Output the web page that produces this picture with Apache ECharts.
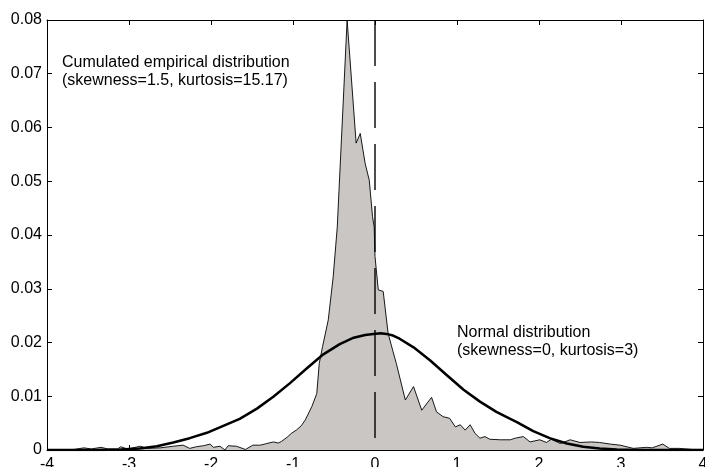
<!DOCTYPE html>
<html>
<head>
<meta charset="utf-8">
<script src="https://cdn.jsdelivr.net/npm/echarts@6/dist/echarts.min.js"></script>
<style>html,body{margin:0;padding:0;background:#fff}#c{width:705px;height:467px}</style>
</head>
<body>
<div id="c"></div>
<script>
// Empirical distribution [x, density]
var empiricalX = [-4.00,-3.67,-3.55,-3.46,-3.34,-3.26,-3.14,-3.10,-3.02,-2.86,-2.78,-2.62,-2.46,-2.34,-2.26,-2.18,-2.09,-2.01,-1.97,-1.89,-1.83,-1.79,-1.69,-1.58,-1.49,-1.40,-1.32,-1.24,-1.18,-1.14,-1.07,-1.02,-0.96,-0.90,-0.85,-0.77,-0.71,-0.68,-0.64,-0.57,-0.51,-0.46,-0.34,-0.23,-0.18,-0.12,-0.07,-0.03,-0.01,0.00,0.04,0.10,0.16,0.22,0.26,0.37,0.47,0.57,0.69,0.75,0.83,0.91,0.98,1.04,1.10,1.16,1.22,1.28,1.34,1.40,1.53,1.65,1.71,1.81,1.89,2.01,2.09,2.15,2.26,2.38,2.50,2.64,2.74,2.87,2.99,3.15,3.31,3.38,3.51,3.59,3.71,3.87,4.00];
var empiricalY = [0.0000,0.0001,0.0004,0.0002,0.0005,0.0002,0.0002,0.0006,0.0002,0.0007,0.0003,0.0004,0.0007,0.0009,0.0003,0.0006,0.0008,0.0011,0.0005,0.0007,0.0000,0.0008,0.0007,0.0001,0.0009,0.0009,0.0012,0.0015,0.0013,0.0016,0.0024,0.0031,0.0037,0.0045,0.0056,0.0081,0.0105,0.0161,0.0192,0.0242,0.0322,0.0415,0.0800,0.0571,0.0589,0.0533,0.0502,0.0434,0.0415,0.0360,0.0298,0.0295,0.0217,0.0183,0.0161,0.0093,0.0118,0.0074,0.0098,0.0071,0.0062,0.0059,0.0043,0.0047,0.0037,0.0047,0.0031,0.0022,0.0025,0.0020,0.0019,0.0019,0.0022,0.0025,0.0015,0.0019,0.0014,0.0020,0.0012,0.0019,0.0014,0.0015,0.0014,0.0011,0.0009,0.0003,0.0005,0.0004,0.0011,0.0003,0.0003,0.0001,0.0001];
// Normal distribution [x, density]
var normalX = [-4.00,-3.40,-3.10,-2.87,-2.66,-2.46,-2.26,-2.05,-1.85,-1.65,-1.44,-1.24,-1.04,-0.83,-0.63,-0.43,-0.26,-0.12,-0.02,0.07,0.14,0.22,0.30,0.47,0.67,0.87,1.08,1.28,1.48,1.65,1.73,1.93,2.13,2.34,2.54,2.74,2.95,3.20,3.50,4.00];
var normalY = [0.0000,0.0000,0.0001,0.0003,0.0007,0.0014,0.0022,0.0032,0.0045,0.0058,0.0077,0.0099,0.0124,0.0152,0.0178,0.0197,0.0209,0.0214,0.0216,0.0217,0.0216,0.0213,0.0207,0.0191,0.0167,0.0140,0.0112,0.0090,0.0071,0.0058,0.0052,0.0035,0.0022,0.0012,0.0006,0.0003,0.0001,0.0000,0.0000,0.0000];
// Reference line at zero
var zeroLineX = [0, 0];
var zeroLineY = [0.08, 0];
var xTicks = [-4,-3,-2,-1,0,1,2,3,4];
var yTicks = [0,0.01,0.02,0.03,0.04,0.05,0.06,0.07,0.08];
var texts = {
  emp: ['Cumulated empirical distribution', '(skewness=1.5, kurtosis=15.17)'],
  norm: ['Normal distribution', '(skewness=0, kurtosis=3)']
};

function pairs(xs, ys){ return xs.map(function(x,i){ return [x, ys[i]]; }); }

var FONT = 'Liberation Sans, Arial, sans-serif';
var chart = echarts.init(document.getElementById('c'), null, {renderer:'canvas'});
function axis(extra){
  return Object.assign({
    type:'value',
    axisLine:{show:true, onZero:false, lineStyle:{color:'#000', width:1}},
    axisTick:{show:true, inside:true, length:5, lineStyle:{color:'#000'}},
    splitLine:{show:false}
  }, extra);
}
chart.setOption({
  animation:false,
  backgroundColor:'#fff',
  grid:{left:47, right:2, top:20, bottom:17, containLabel:false, outerBoundsMode:'none'},
  xAxis:[
    axis({min:xTicks[0], max:xTicks[xTicks.length-1], interval:1, position:'bottom',
      axisLabel:{color:'#000', fontSize:16, fontFamily:FONT, margin:7}}),
    axis({min:xTicks[0], max:xTicks[xTicks.length-1], interval:1, position:'top',
      axisLabel:{show:false}})
  ],
  yAxis:[
    axis({min:yTicks[0], max:yTicks[yTicks.length-1], interval:0.01, position:'left',
      axisLabel:{color:'#000', fontSize:16, fontFamily:FONT, margin:5,
        formatter:function(v){ return v===0 ? '0' : v.toFixed(2); }}}),
    axis({min:yTicks[0], max:yTicks[yTicks.length-1], interval:0.01, position:'right',
      axisLabel:{show:false}})
  ],
  series:[
    {type:'line', data:pairs(empiricalX, empiricalY), showSymbol:false, symbol:'none', clip:true,
      lineStyle:{color:'#000', width:0.9}, areaStyle:{color:'#c9c6c3', opacity:1}, z:2},
    {type:'line', data:pairs(zeroLineX, zeroLineY), showSymbol:false, symbol:'none',
      lineStyle:{color:'#000', width:1.4, type:[46,16]}, z:3},
    {type:'line', data:pairs(normalX, normalY), showSymbol:false, symbol:'none', smooth:false,
      lineStyle:{color:'#000', width:2.5, join:'round'}, z:4}
  ],
  graphic:[
    {type:'text', left:62, top:54, style:{text:texts.emp.join('\n'), fill:'#000', font:'16px '+FONT, lineHeight:18}},
    {type:'text', left:457, top:324, style:{text:texts.norm.join('\n'), fill:'#000', font:'16px '+FONT, lineHeight:18}}
  ]
});
</script>
</body>
</html>
